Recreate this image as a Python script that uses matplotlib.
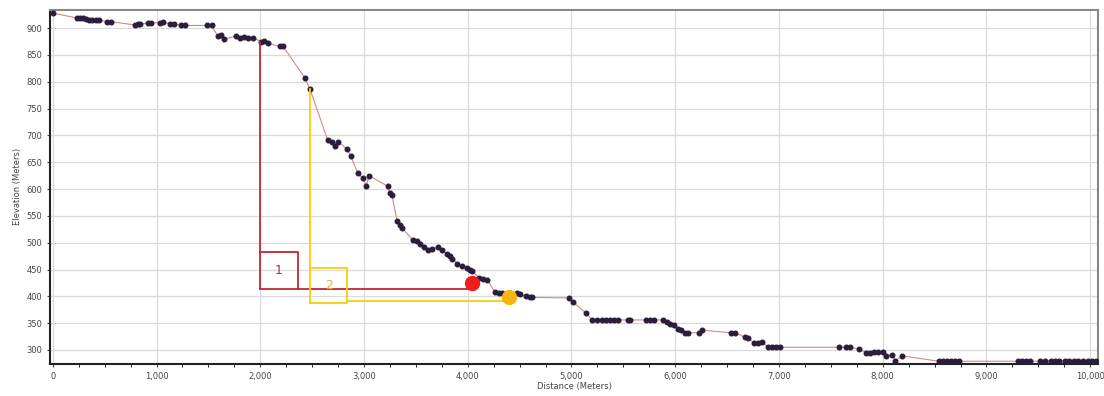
import numpy as np
import matplotlib
matplotlib.use('Agg')
import matplotlib.pyplot as plt
from matplotlib.ticker import MultipleLocator, StrMethodFormatter

# perfil de elevacion (distancia en m, elevacion en m)
distancia = [0, 230, 260, 290, 320, 350, 380, 420, 450, 520, 560, 790, 820, 840,
             920, 950, 1030, 1060, 1130, 1170, 1240, 1270, 1490, 1530, 1590, 1620,
             1650, 1770, 1800, 1840, 1880, 1930, 2010, 2040, 2070, 2190, 2220, 2430,
             2480, 2650, 2690, 2720, 2750, 2840, 2870, 2940, 2990, 3020, 3050, 3230,
             3250, 3270, 3320, 3350, 3370, 3470, 3510, 3540, 3580, 3620, 3660, 3710,
             3750, 3800, 3830, 3850, 3900, 3940, 3990, 4020, 4040, 4110, 4150, 4190,
             4260, 4300, 4330, 4470, 4500, 4560, 4600, 4620, 4980, 5010, 5140, 5200,
             5250, 5290, 5330, 5370, 5410, 5450, 5540, 5560, 5720, 5760, 5800, 5880,
             5920, 5950, 5990, 6030, 6060, 6090, 6120, 6230, 6260, 6540, 6580, 6670,
             6700, 6760, 6800, 6840, 6890, 6930, 6970, 7010, 7580, 7650, 7680, 7775,
             7840, 7880, 7920, 7950, 8000, 8030, 8090, 8120, 8190, 8540, 8580, 8620,
             8660, 8700, 8740, 9300, 9340, 9380, 9420, 9520, 9560, 9620, 9660, 9700,
             9760, 9800, 9840, 9880, 9930, 9980, 10020, 10060]
elevacion = [928, 919, 918, 918, 917, 916, 916, 915, 915, 912, 912, 906, 907, 908,
             909, 910, 910, 911, 908, 908, 905, 905, 905, 905, 885, 888,
             880, 885, 882, 884, 882, 882, 875, 876, 872, 866, 866, 807,
             786, 691, 687, 681, 688, 674, 662, 630, 620, 606, 625, 605,
             593, 588, 540, 533, 527, 505, 503, 497, 492, 486, 488, 492,
             487, 478, 475, 470, 461, 456, 452, 450, 448, 434, 433, 431,
             408, 406, 406, 407, 404, 400, 398, 398, 397, 390, 369, 356,
             356, 356, 356, 356, 356, 356, 356, 356, 356, 356, 356, 356,
             352, 349, 346, 340, 337, 332, 332, 332, 337, 332, 332, 324,
             322, 313, 313, 315, 306, 305, 305, 305, 305, 305, 305, 302,
             295, 295, 296, 296, 297, 289, 291, 280, 289, 279, 279, 279,
             279, 279, 279, 279, 279, 279, 279, 279, 279, 279, 279, 279,
             279, 279, 279, 279, 279, 279, 279, 279]

# puntos marcados
punto1 = (4045, 425)
punto2 = (4400, 399)

# recuadros: (x inicio, elevacion inicio, x caja fin, y caja inf, y caja sup, y linea)
tramo1 = dict(x0=2000, y0=875, xc=2360, yb=414, yt=483, yl=414, lab='1')
tramo2 = dict(x0=2480, y0=786, xc=2840, yb=388, yt=453, yl=391, lab='2')

ROJO = '#c4262e'
AMARILLO = '#f0d10a'

fig, ax = plt.subplots(figsize=(11.04, 3.96), dpi=100)
fig.subplots_adjust(left=0.045, right=0.995, top=0.975, bottom=0.081)

ax.grid(True, color='#dadada', lw=0.9)
ax.set_axisbelow(True)

ax.plot(distancia, elevacion, '-', color='#d98585', lw=0.8, zorder=3)
ax.plot(distancia, elevacion, 'o', color='#2b1d3c', ms=3.3, zorder=4)


def dibujar_tramo(t, col, punto, col_punto):
    ax.plot([t['x0'], t['x0']], [t['y0'], t['yb']], color=col, lw=1.3, zorder=5)
    ax.plot([t['x0'], t['xc'], t['xc'], t['x0']],
            [t['yt'], t['yt'], t['yb'], t['yb']], color=col, lw=1.3, zorder=5)
    ax.plot([t['xc'], punto[0]], [t['yl'], t['yl']], color=col, lw=1.3, zorder=5)
    ax.text((t['x0'] + t['xc']) / 2, (t['yb'] + t['yt']) / 2, t['lab'],
            color=col, fontsize=9, ha='center', va='center', zorder=6)
    ax.plot(*punto, 'o', color=col_punto, ms=10, zorder=7)


dibujar_tramo(tramo1, ROJO, punto1, '#f21c1c')
dibujar_tramo(tramo2, AMARILLO, punto2, '#f5b70f')
ax.texts[-1].set_color('#e8a838')

ax.set_xlim(-30, 10080)
ax.set_ylim(274, 934)
ax.xaxis.set_major_locator(MultipleLocator(1000))
ax.xaxis.set_minor_locator(MultipleLocator(250))
ax.yaxis.set_major_locator(MultipleLocator(50))
ax.xaxis.set_major_formatter(StrMethodFormatter('{x:,.0f}'))
ax.tick_params(labelsize=6, colors='#444444', length=2)
ax.tick_params(which='minor', length=2)

ax.set_xlabel('Distance (Meters)', fontsize=6, color='#444444', labelpad=1)
ax.set_ylabel('Elevation (Meters)', fontsize=6, color='#444444', labelpad=3)

for lado in ['left', 'bottom']:
    ax.spines[lado].set_color('#222222')
    ax.spines[lado].set_linewidth(1.5)
for lado in ['top', 'right']:
    ax.spines[lado].set_color('#888888')
    ax.spines[lado].set_linewidth(1.5)

plt.savefig('out.png', dpi=100)
